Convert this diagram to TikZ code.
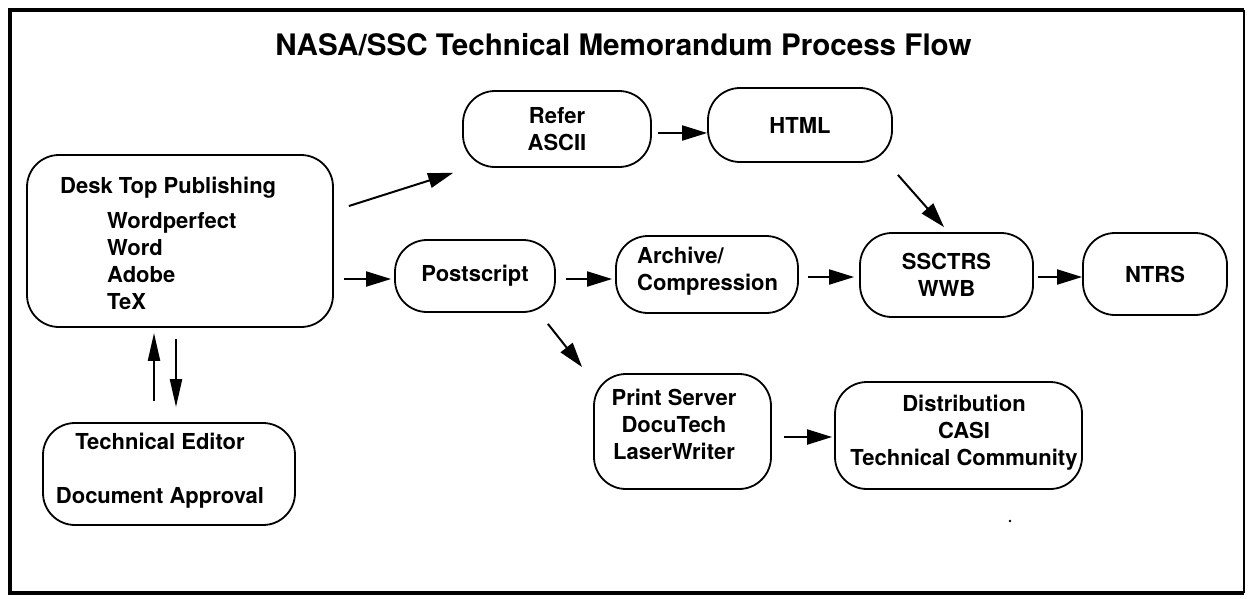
\documentclass[tikz,border=0pt]{standalone}
\usepackage{fontspec}
\setmainfont{TeX Gyre Heros}
\usetikzlibrary{arrows.meta}
\tikzset{
  box/.style={draw, line width=1.8pt, rounded corners=32pt, align=center, inner sep=0pt,
    font=\fontsize{22}{27}\selectfont\bfseries},
  lbl/.style={inner sep=0pt, font=\fontsize{22}{27}\selectfont\bfseries},
  arr/.style={line width=2pt, -{Triangle[length=25pt,width=15pt]}},
  varr/.style={line width=2.2pt, -{Triangle[length=28pt,width=12pt]}}
}
\begin{document}
\begin{tikzpicture}[x=1pt,y=-1pt]
\useasboundingbox (0,0) rectangle (1249,598);
% frame
\draw[line width=3.5pt] (1244,10) -- (10,10) -- (10,593) -- (1244,593);
\draw[line width=2.2pt] (1244,10) -- (1244,593);
% title
\node[inner sep=0pt, anchor=base, font=\fontsize{29.6}{34}\selectfont\bfseries] (title) at (623.5,55) {NASA/SSC Technical Memorandum Process Flow};
% boxes
\node[box, minimum width=306pt, minimum height=172pt] (dtp) at (180,241) {};
\node[lbl, anchor=base west] (dtpt) at (60,193) {\begin{tabular}[t]{@{}l@{}}Desk Top Publishing\\[8pt]
  \hspace*{47pt}Wordperfect\\ \hspace*{47pt}Word\\ \hspace*{47pt}Adobe\\ \hspace*{47pt}TeX\end{tabular}};
\node[box, minimum width=188pt, minimum height=76pt] (refer) at (557,129) {Refer\\ASCII};
\node[box, minimum width=184pt, minimum height=74pt] (html) at (800,125) {HTML};
\node[box, minimum width=160pt, minimum height=72pt] (ps) at (475,276) {Postscript};
\node[box, minimum width=182pt, minimum height=77pt] (arch) at (707,274.5) {};
\node[lbl, anchor=base west] (archt) at (637,263) {\begin{tabular}[t]{@{}l@{}}Archive/\\Compression\end{tabular}};
\node[box, minimum width=173pt, minimum height=84pt] (ssc) at (946.5,275) {SSCTRS\\WWB};
\node[box, minimum width=144pt, minimum height=82pt] (ntrs) at (1155,274) {NTRS};
\node[box, minimum width=177pt, minimum height=115pt] (prt) at (682.5,431.5) {};
\node[lbl, anchor=base] (prtt) at (674,405) {\begin{tabular}[t]{@{}c@{}}Print Server\\DocuTech\\LaserWriter\end{tabular}};
\node[box, minimum width=247pt, minimum height=107pt] (dist) at (958.5,435.5) {};
\node[lbl, anchor=base] (distt) at (964,411) {\begin{tabular}[t]{@{}c@{}}Distribution\\CASI\\Technical Community\end{tabular}};
\node[box, minimum width=252pt, minimum height=102pt] (ted) at (169,474) {};
\node[lbl, anchor=base] (tedt) at (160,449) {\begin{tabular}[t]{@{}c@{}}Technical Editor\\[27pt]Document Approval\end{tabular}};
% connectors
\draw[arr] ([xshift=15pt,yshift=35pt]dtp.east) -- ([xshift=-9pt,yshift=-5pt]refer.south west);
\draw[arr] ([xshift=6pt,yshift=-4pt]refer.east) -- ([yshift=-8pt]html.west);
\draw[arr] ([xshift=5pt,yshift=-12pt]html.south east) -- ([xshift=-2.5pt,yshift=5pt]ssc.north);
\draw[arr] ([xshift=10pt,yshift=-38pt]dtp.east) -- ([xshift=-3pt,yshift=-3pt]ps.west);
\draw[arr] ([xshift=10pt,yshift=-3pt]ps.east) -- ([xshift=-3pt,yshift=-4.5pt]arch.west);
\draw[arr] ([xshift=9pt,yshift=-2.5pt]arch.east) -- ([xshift=-5pt,yshift=-2pt]ssc.west);
\draw[arr] ([xshift=4pt,yshift=-2pt]ssc.east) -- ([yshift=-3pt]ntrs.west);
\draw[arr] ([xshift=-8pt,yshift=-11pt]ps.south east) -- ([xshift=-11pt,yshift=6pt]prt.north west);
\draw[arr] ([xshift=12pt,yshift=-5.5pt]prt.east) -- ([xshift=-2pt,yshift=-1.5pt]dist.west);
\draw[varr] ([xshift=-15pt,yshift=21pt]ted.north) -- ([xshift=-26pt,yshift=-5pt]dtp.south);
\draw[varr] ([xshift=-4pt,yshift=-11pt]dtp.south) -- ([xshift=7pt,yshift=15pt]ted.north);
% speck
\fill (1010,521) circle (1.3pt);
\end{tikzpicture}
\end{document}
